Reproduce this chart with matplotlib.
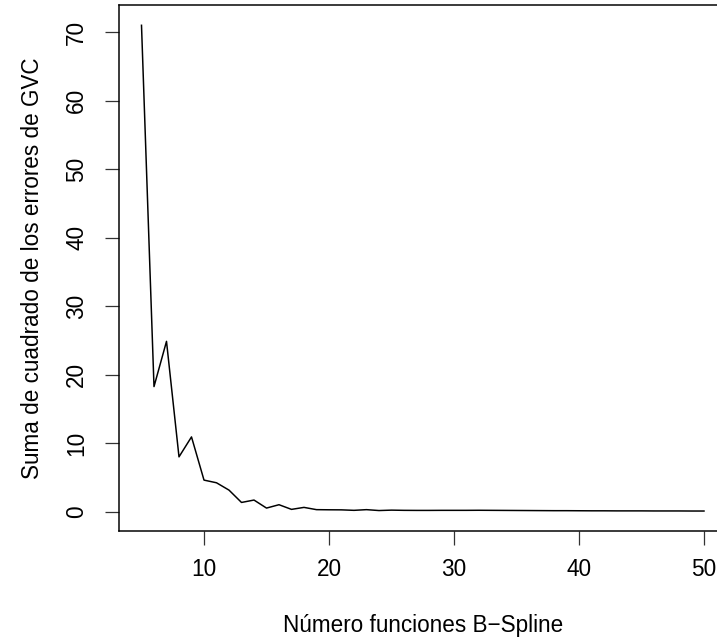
import matplotlib
matplotlib.use("Agg")
import matplotlib.pyplot as plt

plt.rcParams['font.family'] = ['Liberation Sans', 'DejaVu Sans']

n_funciones = list(range(5, 51))
gvc_error = [71.0, 18.3, 24.9, 8.05, 10.96, 4.66, 4.27, 3.2, 1.4, 1.75,
             0.58, 1.07, 0.39, 0.68, 0.35, 0.33, 0.32, 0.25, 0.35, 0.22,
             0.28, 0.25, 0.24, 0.24, 0.25, 0.25, 0.25, 0.26, 0.25, 0.24,
             0.23, 0.22, 0.21, 0.20, 0.20, 0.19, 0.18, 0.18, 0.17, 0.17,
             0.17, 0.16, 0.16, 0.16, 0.15, 0.15]
x_ticks = [10, 20, 30, 40, 50]
y_ticks = [0, 10, 20, 30, 40, 50, 60, 70]

W, H = 717, 640
dpi = 120
fs = 13.5
fig = plt.figure(figsize=(W / dpi, H / dpi), dpi=dpi)
left, right, top, bottom = 119, 726.5, 5, 530.7
ax = fig.add_axes([left / W, 1 - bottom / H, (right - left) / W, (bottom - top) / H])

ax.plot(n_funciones, gvc_error, color='black', lw=0.9)
ax.set_xlim(3.2, 51.8)
ax.set_ylim(-2.72, 73.96)
ax.set_xticks(x_ticks)
ax.set_yticks(y_ticks)
ax.set_yticklabels([str(v) for v in y_ticks], rotation=90, va='center')
ax.tick_params(axis='both', length=8.4, width=0.75, labelsize=fs, color='#333333')
ax.tick_params(axis='x', pad=8)
ax.tick_params(axis='y', pad=10)
for s in ax.spines.values():
    s.set_linewidth(0.9)
ax.set_xlabel('Número funciones B\u2212Spline', fontsize=fs, labelpad=20)
ax.set_ylabel('Suma de cuadrado de los errores de GVC', fontsize=fs, labelpad=13)

fig.savefig('out.png', dpi=dpi)
